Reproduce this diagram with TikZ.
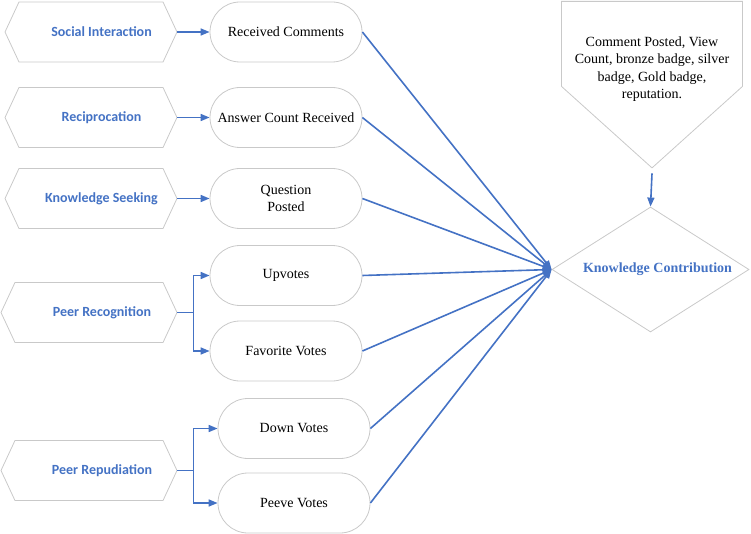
\documentclass[tikz,border=0pt]{standalone}
\usepackage{fontspec}
\setmainfont{Liberation Serif}
\newfontfamily\calibri{Carlito}
\usetikzlibrary{shapes.symbols,shapes.misc,shapes.geometric,arrows.meta}
\definecolor{tblue}{HTML}{4472C4}
\definecolor{tgray}{HTML}{C9C9C9}
\tikzset{
	factor/.style={signal, signal to=east and west, signal pointer angle=130, draw=tgray, line width=0.8pt, minimum width=172pt, minimum height=60pt, inner sep=0pt, text=tblue, font=\calibri\bfseries\fontsize{14}{17}\selectfont},
	measure/.style={rounded rectangle, draw=tgray, line width=0.8pt, minimum width=152pt, minimum height=60pt, inner sep=0pt, align=center, font=\fontsize{14}{17}\selectfont},
	arr/.style={draw=tblue, line width=1.6pt, -{Triangle[length=9pt,width=7pt]}},
	link/.style={draw=tblue, line width=1.6pt}
}
\begin{document}
\begin{tikzpicture}[x=1pt,y=1pt]
	\useasboundingbox (0,0) rectangle (751,-534);
	% Faktoren
	\node[factor] (si) at (91,-32) {\hspace*{21pt}Social Interaction};
	\node[factor] (rp) at (91,-117.5) {\hspace*{21pt}Reciprocation};
	\node[factor] (ks) at (91,-198.5) {\hspace*{21pt}Knowledge Seeking};
	\node[factor, minimum width=176pt] (pr) at (89,-312.5) {\hspace*{26pt}Peer Recognition};
	\node[factor, minimum width=176pt] (pd) at (89,-470.5) {\hspace*{26pt}Peer Repudiation};
	% Messgroessen
	\node[measure] (rc) at (286,-32) {Received Comments};
	\node[measure] (ac) at (286,-117.5) {Answer Count Received};
	\node[measure] (qp) at (286,-198.5) {Question\\Posted};
	\node[measure] (uv) at (286,-275.5) {Upvotes};
	\node[measure] (fv) at (286,-351) {Favorite Votes};
	\node[measure] (dv) at (294,-428.5) {Down Votes};
	\node[measure] (pv) at (294,-503) {Peeve Votes};
	% Ziel
	\node[diamond, aspect=1.58, draw=tgray, line width=0.8pt, minimum width=197pt, minimum height=125pt, inner sep=0pt, text=tblue, font=\bfseries\fontsize{14}{17}\selectfont] (kc) at (650.5,-269.5) {\hspace*{14pt}Knowledge Contribution};
	% Kontrollvariablen
	\node[signal, signal to=south, signal pointer angle=96, draw=tgray, line width=0.8pt, minimum width=181pt, minimum height=85pt, inner sep=0pt, anchor=north] (cp) at (652,-1) {};
	\node[align=center, font=\fontsize{14}{17.5}\selectfont] (cpt) at (652,-69) {Comment Posted, View\\Count, bronze badge, silver\\badge, Gold badge,\\reputation.};
	% Pfeile links
	\draw[arr] (si.east) -- (rc.west);
	\draw[arr] (rp.east) -- (ac.west);
	\draw[arr] (ks.east) -- (qp.west);
	\draw[link] (pr.east) -- ++(16,0) coordinate (prj);
	\draw[arr] (prj) |- (uv.west);
	\draw[arr] (prj) |- (fv.west);
	\draw[link] (pd.east) -- ++(16,0) coordinate (pdj);
	\draw[arr] (pdj) |- (dv.west);
	\draw[arr] (pdj) |- (pv.west);
	% Pfeile zum Ziel
	\draw[arr] (rc.east) -- (kc.west);
	\draw[arr] (ac.east) -- (kc.west);
	\draw[arr] (qp.east) -- (kc.west);
	\draw[arr] (uv.east) -- (kc.west);
	\draw[arr] (fv.east) -- (kc.west);
	\draw[arr] (dv.east) -- (kc.west);
	\draw[arr] (pv.east) -- (kc.west);
	\draw[arr] ([yshift=-5pt]cp.south) -- (kc.north);
\end{tikzpicture}
\end{document}
